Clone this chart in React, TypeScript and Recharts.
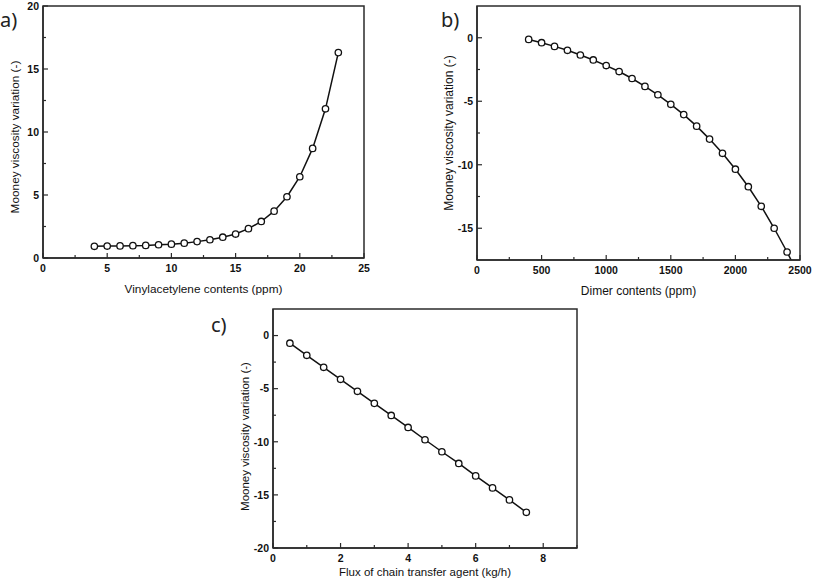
import React from "react";
import { LineChart, Line, XAxis, YAxis, ReferenceArea, Label } from "recharts";

// a) Vinylacetylene contents (ppm) vs Mooney viscosity variation
const vinylContent = [4, 5, 6, 7, 8, 9, 10, 11, 12, 13, 14, 15, 16, 17, 18, 19, 20, 21, 22, 23];
const vinylMooney = [0.93, 0.95, 0.96, 0.98, 1.0, 1.05, 1.1, 1.18, 1.3, 1.45, 1.65, 1.9, 2.33, 2.9, 3.72, 4.86, 6.45, 8.7, 11.84, 16.3];

// b) Dimer contents (ppm) — last point sits below the axis and gets clipped
const dimerContent = [400, 500, 600, 700, 800, 900, 1000, 1100, 1200, 1300, 1400, 1500, 1600, 1700, 1800, 1900, 2000, 2100, 2200, 2300, 2400, 2500];
const dimerMooney = [-0.13, -0.39, -0.68, -0.99, -1.36, -1.75, -2.19, -2.66, -3.21, -3.83, -4.49, -5.24, -6.05, -6.96, -7.98, -9.1, -10.35, -11.73, -13.27, -15.0, -16.87, -18.9];

// c) Flux of chain transfer agent (kg/h)
const ctaFlux = [0.5, 1, 1.5, 2, 2.5, 3, 3.5, 4, 4.5, 5, 5.5, 6, 6.5, 7, 7.5];
const ctaMooney = [-0.72, -1.86, -2.99, -4.12, -5.25, -6.38, -7.52, -8.65, -9.81, -10.94, -12.04, -13.21, -14.34, -15.47, -16.64];

// tick values (minor + major); labels only on the majors
const vinylTicksX = [0, 2.5, 5, 7.5, 10, 12.5, 15, 17.5, 20, 22.5, 25];
const vinylTicksY = [0, 2.5, 5, 7.5, 10, 12.5, 15, 17.5, 20];
const dimerTicksX = [0, 250, 500, 750, 1000, 1250, 1500, 1750, 2000, 2250, 2500];
const dimerTicksY = [-15, -12.5, -10, -7.5, -5, -2.5, 0];
const ctaTicksX = [0, 1, 2, 3, 4, 5, 6, 7, 8, 9];
const ctaTicksY = [-20, -17.5, -15, -12.5, -10, -7.5, -5, -2.5, 0];

const AXIS = "#2b2b2b";
const INK = "#111";
const TICK_FONT = "'Liberation Sans', Arial, sans-serif";
const X_MARGIN = 8;
const Y_MARGIN = 8;

const toRows = (xs: number[], ys: number[]) => xs.map((x, i) => ({ x, y: ys[i] }));

function makeXTick(isMajor: (v: number) => boolean) {
  return (p: any) => {
    const { x, y, payload } = p;
    const v = payload.value;
    const axisY = y - X_MARGIN;
    const major = isMajor(v);
    return (
      <g>
        <line x1={x} x2={x} y1={axisY} y2={axisY - (major ? 5 : 3)} stroke={AXIS} strokeWidth={1.2} />
        {major && (
          <text x={x} y={axisY + 14} textAnchor="middle" fontSize={10.5} fontWeight="bold" fontFamily={TICK_FONT} fill={INK}>
            {v}
          </text>
        )}
      </g>
    );
  };
}

function makeYTick(isMajor: (v: number) => boolean) {
  return (p: any) => {
    const { x, y, payload } = p;
    const v = payload.value;
    const axisX = x + Y_MARGIN;
    const major = isMajor(v);
    return (
      <g>
        <line x1={axisX} x2={axisX + (major ? 5 : 3)} y1={y} y2={y} stroke={AXIS} strokeWidth={1.2} />
        {major && (
          <text x={axisX - 4} y={y} dy="0.36em" textAnchor="end" fontSize={10.5} fontWeight="bold" fontFamily={TICK_FONT} fill={INK}>
            {v}
          </text>
        )}
      </g>
    );
  };
}

interface PanelProps {
  left: number;
  top: number;
  width: number;
  height: number;
  margin: { top: number; right: number; bottom: number; left: number };
  yAxisWidth: number;
  xAxisHeight: number;
  data: { x: number; y: number }[];
  xDomain: [number, number];
  yDomain: [number, number];
  xTicks: number[];
  yTicks: number[];
  xStep: number;
  yStep: number;
  xTitle: string;
  yTitle: string;
  xTitleDy: number;
  yTitleDy: number;
  titleSize: number;
}

function Panel(props: PanelProps) {
  const {
    left, top, width, height, margin, yAxisWidth, xAxisHeight, data,
    xDomain, yDomain, xTicks, yTicks, xStep, yStep, xTitle, yTitle, xTitleDy, yTitleDy, titleSize,
  } = props;
  const onStep = (step: number) => (v: number) => Math.abs(v / step - Math.round(v / step)) < 1e-6;
  return (
    <div style={{ position: "absolute", left, top }}>
      <LineChart width={width} height={height} data={data} margin={margin}>
        <XAxis
          dataKey="x"
          type="number"
          domain={xDomain}
          ticks={xTicks}
          interval={0}
          allowDataOverflow
          height={xAxisHeight}
          tickLine={false}
          tickSize={0}
          tickMargin={X_MARGIN}
          axisLine={{ stroke: AXIS, strokeWidth: 1.5 }}
          tick={makeXTick(onStep(xStep))}
        >
          <Label
            content={(lp: any) => {
              const vb = lp.viewBox;
              return (
                <text x={vb.x + vb.width / 2} y={vb.y + xTitleDy} textAnchor="middle" fontSize={titleSize} fontFamily={TICK_FONT} fill={INK}>
                  {xTitle}
                </text>
              );
            }}
          />
        </XAxis>
        <YAxis
          dataKey="y"
          type="number"
          domain={yDomain}
          ticks={yTicks}
          interval={0}
          allowDataOverflow
          width={yAxisWidth}
          tickLine={false}
          tickSize={0}
          tickMargin={Y_MARGIN}
          axisLine={{ stroke: AXIS, strokeWidth: 1.5 }}
          tick={makeYTick(onStep(yStep))}
        >
          <Label
            content={(lp: any) => {
              const vb = lp.viewBox;
              const cx = vb.x + vb.width - 28;
              const cy = vb.y + vb.height / 2 + yTitleDy;
              return (
                <text
                  x={cx}
                  y={cy}
                  dy="0.35em"
                  transform={`rotate(-90 ${cx} ${cy})`}
                  textAnchor="middle"
                  fontSize={titleSize}
                  fontFamily={TICK_FONT}
                  fill={INK}
                >
                  {yTitle}
                </text>
              );
            }}
          />
        </YAxis>
        <ReferenceArea
          x1={xDomain[0]}
          x2={xDomain[1]}
          y1={yDomain[0]}
          y2={yDomain[1]}
          fill="none"
          stroke={AXIS}
          strokeWidth={1.5}
          ifOverflow="visible"
        />
        <Line
          dataKey="y"
          type="linear"
          stroke={INK}
          strokeWidth={1.5}
          dot={{ r: 3.2, fill: "#fff", stroke: INK, strokeWidth: 1.3 }}
          activeDot={false}
          isAnimationActive={false}
        />
      </LineChart>
    </div>
  );
}

export default function App() {
  const letter = { fontFamily: "'Noto Sans', 'Open Sans', sans-serif", fontSize: 20, fill: "#222" } as const;
  return (
    <div style={{ position: "absolute", left: 0, top: 0, width: 813, height: 582, background: "#fff", overflow: "hidden" }}>
      <Panel
        left={0}
        top={0}
        width={380}
        height={300}
        margin={{ top: 6, right: 16, bottom: 0, left: 0 }}
        yAxisWidth={43}
        xAxisHeight={42}
        data={toRows(vinylContent, vinylMooney)}
        xDomain={[0, 25]}
        yDomain={[0, 20]}
        xTicks={vinylTicksX}
        yTicks={vinylTicksY}
        xStep={5}
        yStep={5}
        xTitle="Vinylacetylene contents (ppm)"
        yTitle="Mooney viscosity variation (-)"
        xTitleDy={35}
        yTitleDy={5}
        titleSize={11.8}
      />
      <Panel
        left={420}
        top={0}
        width={393}
        height={302}
        margin={{ top: 6, right: 13, bottom: 0, left: 0 }}
        yAxisWidth={57}
        xAxisHeight={42}
        data={toRows(dimerContent, dimerMooney)}
        xDomain={[0, 2500]}
        yDomain={[-17.5, 2.5]}
        xTicks={dimerTicksX}
        yTicks={dimerTicksY}
        xStep={500}
        yStep={5}
        xTitle="Dimer contents (ppm)"
        yTitle="Mooney viscosity variation (-)"
        xTitleDy={35}
        yTitleDy={0}
        titleSize={12}
      />
      <Panel
        left={200}
        top={280}
        width={390}
        height={302}
        margin={{ top: 29, right: 13, bottom: 0, left: 0 }}
        yAxisWidth={73}
        xAxisHeight={34}
        data={toRows(ctaFlux, ctaMooney)}
        xDomain={[0, 9]}
        yDomain={[-20, 2.5]}
        xTicks={ctaTicksX}
        yTicks={ctaTicksY}
        xStep={2}
        yStep={5}
        xTitle="Flux of chain transfer agent (kg/h)"
        yTitle="Mooney viscosity variation (-)"
        xTitleDy={28}
        yTitleDy={8}
        titleSize={11.5}
      />
      <svg width={813} height={582} style={{ position: "absolute", left: 0, top: 0, pointerEvents: "none" }}>
        <text x={0} y={27} {...letter}>a)</text>
        <text x={441} y={27} {...letter}>b)</text>
        <text x={211} y={332} {...letter}>c)</text>
      </svg>
    </div>
  );
}
